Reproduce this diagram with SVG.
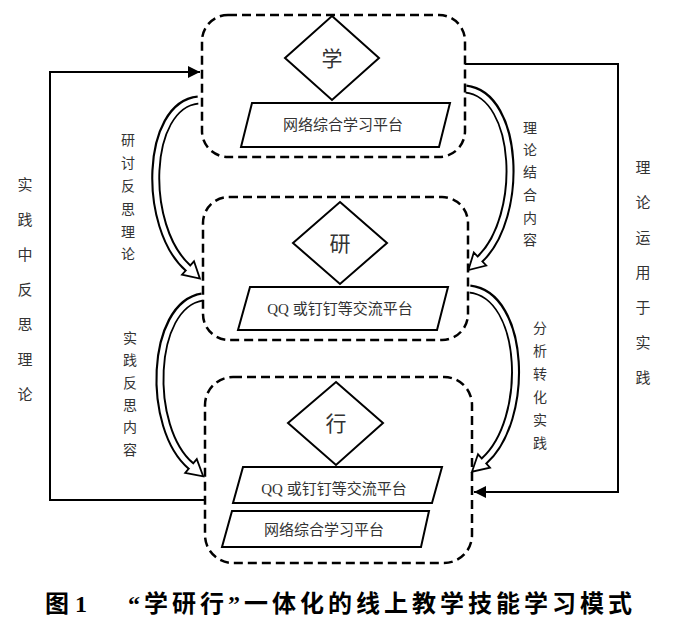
<svg xmlns="http://www.w3.org/2000/svg" width="675" height="625" viewBox="0 0 675 625">
<defs>
<style>
.box{fill:none;stroke:#000;stroke-width:2.5;stroke-dasharray:9 5}
.dia,.par{fill:#fff;stroke:#000;stroke-width:2}
.t{font-family:"Liberation Serif","Noto Sans CJK SC",serif;fill:#333;text-anchor:middle}
.pt{font-size:15px}
.dt{font-size:21px}
.lab{font-size:14px}
.olab{font-size:15px}
.cap{font-family:"Liberation Serif","Noto Sans CJK SC",serif;font-weight:bold;font-size:24px;fill:#000}
.line{fill:none;stroke:#000;stroke-width:2}
.ob{fill:none;stroke:#000;stroke-width:9}
.ib{fill:none;stroke:#fff;stroke-width:5}
.hd{fill:#fff;stroke:#000;stroke-width:1.8;stroke-linejoin:miter}
</style>
<marker id="arr" markerUnits="userSpaceOnUse" markerWidth="13" markerHeight="13" refX="12" refY="6.5" orient="auto">
<path d="M0,0.5 L12,6.5 L0,12.5 z" fill="#000"/>
</marker>
</defs>
<rect width="675" height="625" fill="#fff"/>

<g id="connectors">
<polyline class="line" points="205,500 50,500 50,72 200,72" marker-end="url(#arr)"/>
<polyline class="line" points="465,64 618,64 618,492 474,492" marker-end="url(#arr)"/>
<g id="arrow-l1">
<path class="ob" d="M198,100 C145,105 142,227 188,268"/>
<polygon class="hd" points="194.0,261.3 199.9,278.6 182.0,274.7"/>
<path class="ib" d="M199,100 C145,105 142,227 188,268 l3,2.7"/>
</g>
<g id="arrow-l2">
<path class="ob" d="M202,297 C150,305 146,428 191,466"/>
<polygon class="hd" points="196.8,459.1 203.2,476.3 185.2,472.9"/>
<path class="ib" d="M203,297 C150,305 146,428 191,466 l3,2.5"/>
</g>
<g id="arrow-r1">
<path class="ob" d="M466,89 C520,95 524,217 480,259"/>
<polygon class="hd" points="473.8,252.5 468.4,270.0 486.2,265.5"/>
<path class="ib" d="M465,89 C520,95 524,217 480,259 l-2.9,2.8"/>
</g>
<g id="arrow-r2">
<path class="ob" d="M470,289 C526,295 530,420 484,461"/>
<polygon class="hd" points="478.0,454.3 472.0,471.7 490.0,467.7"/>
<path class="ib" d="M469,289 C526,295 530,420 484,461 l-3,2.7"/>
</g>
</g>

<g id="node-xue">
<rect class="box" x="202" y="15" width="263" height="142" rx="26"/>
<polygon class="dia" points="332,16 379,58 332,100 285,58"/>
<text class="t dt" x="332" y="66">学</text>
<polygon class="par" points="252,103 450,103 439,147 241,147"/>
<text class="t pt" x="343" y="130">网络综合学习平台</text>
</g>

<g id="node-yan">
<rect class="box" x="203" y="197" width="265" height="143" rx="26"/>
<polygon class="dia" points="340,202 387,243 340,284 293,243"/>
<text class="t dt" x="340" y="251">研</text>
<polygon class="par" points="250,287 448,287 437,330 238,330"/>
<text class="t pt" x="340" y="314">QQ 或钉钉等交流平台</text>
</g>

<g id="node-xing">
<rect class="box" x="205" y="377" width="267" height="186" rx="28"/>
<polygon class="dia" points="336,382 383,423 336,465 288,423"/>
<text class="t dt" x="336" y="431">行</text>
<polygon class="par" points="243,467 442,467 432,503 233,503"/>
<text class="t pt" x="334" y="494">QQ 或钉钉等交流平台</text>
<polygon class="par" points="232,511 429,511 421,547 222,547"/>
<text class="t pt" x="324" y="535">网络综合学习平台</text>
</g>

<g id="labels">
<text class="t olab" x="25" y="190">实</text>
<text class="t olab" x="25" y="225">践</text>
<text class="t olab" x="25" y="260">中</text>
<text class="t olab" x="25" y="295">反</text>
<text class="t olab" x="25" y="330">思</text>
<text class="t olab" x="25" y="365">理</text>
<text class="t olab" x="25" y="400">论</text>

<text class="t olab" x="643" y="173">理</text>
<text class="t olab" x="643" y="208">论</text>
<text class="t olab" x="643" y="243">运</text>
<text class="t olab" x="643" y="278">用</text>
<text class="t olab" x="643" y="313">于</text>
<text class="t olab" x="643" y="348">实</text>
<text class="t olab" x="643" y="383">践</text>

<text class="t lab" x="128" y="145">研</text>
<text class="t lab" x="128" y="168">讨</text>
<text class="t lab" x="128" y="191">反</text>
<text class="t lab" x="128" y="214">思</text>
<text class="t lab" x="128" y="237">理</text>
<text class="t lab" x="128" y="259">论</text>

<text class="t lab" x="130" y="343">实</text>
<text class="t lab" x="130" y="365">践</text>
<text class="t lab" x="130" y="388">反</text>
<text class="t lab" x="130" y="410">思</text>
<text class="t lab" x="130" y="432">内</text>
<text class="t lab" x="130" y="455">容</text>

<text class="t lab" x="530" y="133">理</text>
<text class="t lab" x="530" y="155">论</text>
<text class="t lab" x="530" y="177">结</text>
<text class="t lab" x="530" y="200">合</text>
<text class="t lab" x="530" y="223">内</text>
<text class="t lab" x="530" y="245">容</text>

<text class="t lab" x="540" y="333">分</text>
<text class="t lab" x="540" y="356">析</text>
<text class="t lab" x="540" y="379">转</text>
<text class="t lab" x="540" y="402">化</text>
<text class="t lab" x="540" y="425">实</text>
<text class="t lab" x="540" y="448">践</text>
</g>

<g id="caption">
<text class="cap" x="45" y="612">图 1</text>
<text class="cap" x="128" y="612" textLength="504" lengthAdjust="spacing">“学研行”一体化的线上教学技能学习模式</text>
</g>
</svg>
